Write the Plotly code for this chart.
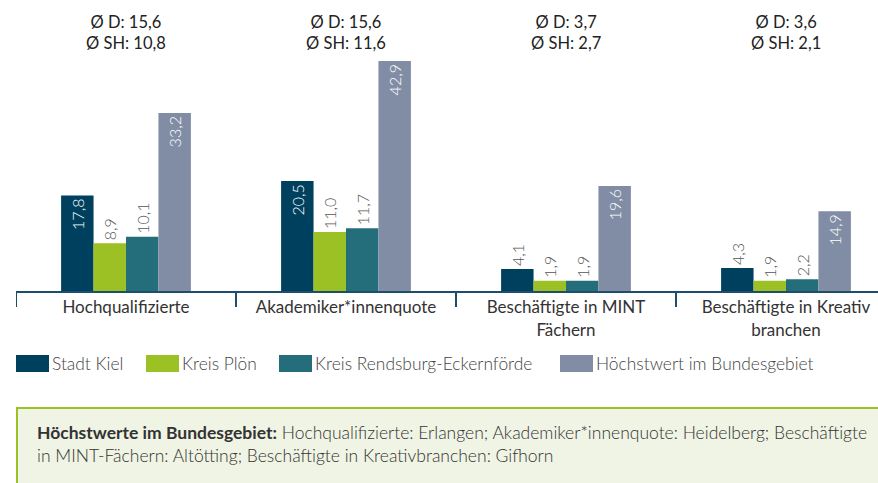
import plotly.graph_objects as go

categories = ["Hochqualifizierte", "Akademiker*innenquote",
              "Beschäftigte in MINT<br>Fächern", "Beschäftigte in Kreativ<br>branchen"]
series_names = ["Stadt Kiel", "Kreis Plön", "Kreis Rendsburg-Eckernförde", "Höchstwert im Bundesgebiet"]
kiel = [17.8, 20.5, 4.1, 4.3]
ploen = [8.9, 11.0, 1.9, 1.9]
rendsburg = [10.1, 11.7, 1.9, 2.2]
hoechst = [33.2, 42.9, 19.6, 14.9]
avg_d = ["15,6", "15,6", "3,7", "3,6"]
avg_sh = ["10,8", "11,6", "2,7", "2,1"]
colors = ["#00405f", "#9bc124", "#246e7c", "#818da5"]
note_bold = "Höchstwerte im Bundesgebiet:"
note_text = (" Hochqualifizierte: Erlangen; Akademiker*innenquote: Heidelberg; Beschäftigte"
             "<br>in MINT-Fächern: Altötting; Beschäftigte in Kreativbranchen: Gifhorn")

FONT = "Lato"
W, H = 878, 483
ML, MR, MT, MB = 16, 0, 55, 192
PW = W - ML - MR
PH = H - MT - MB
BASE = H - MB


def px_x(p):
    return (p - ML) / PW


def px_y(p):
    return (BASE - p) / PH


def fmt(v):
    return f"{v:.1f}".replace(".", ",")


fig = go.Figure()
for name, vals, col in zip(series_names, [kiel, ploen, rendsburg, hoechst], colors):
    pos = ["inside" if v > 12 else "outside" for v in vals]
    fig.add_trace(go.Bar(
        x=categories, y=vals, name=name, marker=dict(color=col, line=dict(width=0)),
        text=[fmt(v) for v in vals], textposition=pos, textangle=-90,
        insidetextanchor="end", constraintext="none", cliponaxis=False,
        insidetextfont=dict(family=FONT, size=16, color="white", weight=300),
        outsidetextfont=dict(family=FONT, size=16, color="#555555", weight=300),
        showlegend=False, hoverinfo="skip",
    ))

shapes = []
annotations = []
# category boundary ticks
for i in range(len(categories)):
    shapes.append(dict(type="line", xref="x", yref="paper", x0=i - 0.5, x1=i - 0.5,
                       y0=0, y1=px_y(307), line=dict(color="#1d4e6b", width=2)))

# averages above groups
for i, c in enumerate(categories):
    annotations.append(dict(x=c, xref="x", yref="paper", y=px_y(32), yanchor="middle",
                            text=f"Ø D: {avg_d[i]}<br>Ø SH: {avg_sh[i]}", showarrow=False,
                            font=dict(family=FONT, size=16.5, color="#222222")))

# custom legend
leg_x = [16, 146, 279, 560]
for lx, name, col in zip(leg_x, series_names, colors):
    shapes.append(dict(type="rect", xref="paper", yref="paper", x0=px_x(lx), x1=px_x(lx + 33),
                       y0=px_y(355), y1=px_y(372), fillcolor=col, line=dict(width=0)))
    annotations.append(dict(x=px_x(lx + 34), y=px_y(363.5), xref="paper", yref="paper",
                            xanchor="left", yanchor="middle", text=name, showarrow=False,
                            font=dict(family=FONT, size=17.4, color="#444444", weight=300)))

# note box
shapes.append(dict(type="rect", xref="paper", yref="paper", x0=px_x(16), x1=px_x(900),
                   y0=px_y(408), y1=px_y(500), fillcolor="#eff4e4", line=dict(width=0), layer="below"))
shapes.append(dict(type="line", xref="paper", yref="paper", x0=px_x(16), x1=px_x(900),
                   y0=px_y(408), y1=px_y(408), line=dict(color="#9bc124", width=2)))
shapes.append(dict(type="line", xref="paper", yref="paper", x0=px_x(17), x1=px_x(17),
                   y0=px_y(408), y1=px_y(500), line=dict(color="#9bc124", width=2)))
annotations.append(dict(x=px_x(35), y=px_y(444), xref="paper", yref="paper", xanchor="left",
                        yanchor="middle", align="left", showarrow=False,
                        text=f"<b>{note_bold}</b>{note_text}",
                        font=dict(family=FONT, size=17.5, color="#333333", weight=300)))

fig.update_layout(
    width=W, height=H, margin=dict(l=ML, r=MR, t=MT, b=MB),
    barmode="group", bargap=0.41, bargroupgap=0,
    plot_bgcolor="white", paper_bgcolor="white",
    shapes=shapes, annotations=annotations, hovermode=False,
    xaxis=dict(range=[-0.5, -0.5 + PW / 220], showline=True, linecolor="#1d4e6b", linewidth=2,
               ticks="", showgrid=False, fixedrange=True,
               tickfont=dict(family=FONT, size=17, color="#333333")),
    yaxis=dict(range=[0, PH / 5.36], visible=False, showgrid=False, zeroline=False, fixedrange=True),
)
fig.write_html("out.html", config={"displayModeBar": False},
               post_script="document.body.style.margin='0';")
